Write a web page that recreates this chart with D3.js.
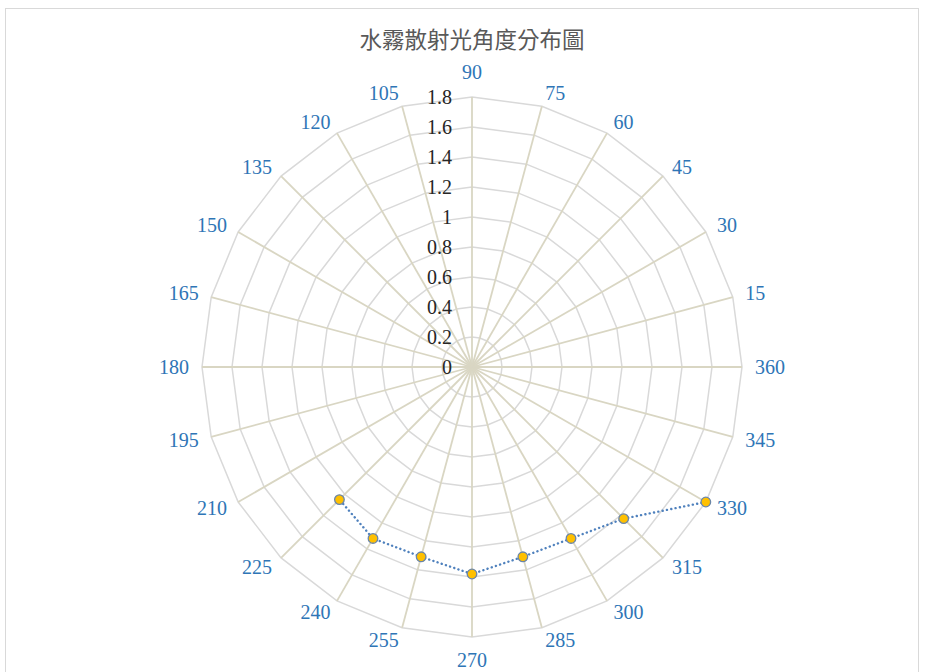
<!DOCTYPE html>
<html>
<head>
<meta charset="utf-8">
<script src="https://cdn.jsdelivr.net/npm/d3@7"></script>
<style>
  html, body { margin: 0; padding: 0; background: #fff; }
</style>
</head>
<body>
<div id="chart"></div>
<script>
// category labels, clockwise from the top (Excel radar order)
const categories = [90, 75, 60, 45, 30, 15, 360, 345, 330, 315, 300, 285,
                    270, 255, 240, 225, 210, 195, 180, 165, 150, 135, 120, 105];
// measured intensity per angle (blank = no reading)
const valuesByAngle = { 225: 1.25, 240: 1.32, 255: 1.31, 270: 1.38,
                        285: 1.31, 300: 1.32, 315: 1.43, 330: 1.8 };
const radialTicks = [0, 0.2, 0.4, 0.6, 0.8, 1, 1.2, 1.4, 1.6, 1.8];
const title = "水霧散射光角度分布圖";

const width = 925, height = 672;
const cx = 472, cy = 367;

const svg = d3.select("#chart").append("svg")
  .attr("width", width)
  .attr("height", height);

// chart frame
svg.append("rect")
  .attr("x", 5.5).attr("y", 8.5)
  .attr("width", 913).attr("height", 700)
  .attr("fill", "#fff")
  .attr("stroke", "#d9d9d9");

svg.append("text")
  .attr("x", cx).attr("y", 48)
  .attr("text-anchor", "middle")
  .attr("font-family", "'Noto Sans CJK TC', 'Noto Sans CJK SC', sans-serif")
  .attr("font-size", 22.5)
  .attr("fill", "#595959")
  .text(title);

const r = d3.scaleLinear().domain([0, 1.8]).range([0, 270]);
const angle = d3.scalePoint()
  .domain(categories)
  .range([0, 2 * Math.PI * (categories.length - 1) / categories.length]);

const g = svg.append("g").attr("transform", `translate(${cx},${cy})`);

// ring polygons
const ring = d3.lineRadial()
  .angle(d => angle(d))
  .curve(d3.curveLinearClosed);
g.selectAll(".ring")
  .data(radialTicks.filter(t => t > 0))
  .join("path")
  .attr("class", "ring")
  .attr("d", t => ring.radius(r(t))(categories))
  .attr("fill", "none")
  .attr("stroke", "#d9d9d9")
  .attr("stroke-width", 1.5);

// spokes
g.selectAll(".spoke")
  .data(categories)
  .join("line")
  .attr("class", "spoke")
  .attr("x1", 0).attr("y1", 0)
  .attr("x2", d => r(1.8) * Math.sin(angle(d)))
  .attr("y2", d => -r(1.8) * Math.cos(angle(d)))
  .attr("stroke", "#d9d6c3")
  .attr("stroke-width", 1.8);

// radial value labels
g.selectAll(".rtick")
  .data(radialTicks)
  .join("text")
  .attr("class", "rtick")
  .attr("x", -20)
  .attr("y", t => -r(t))
  .attr("dy", "0.33em")
  .attr("text-anchor", "end")
  .attr("font-family", "'Liberation Serif', serif")
  .attr("font-size", 20)
  .attr("fill", "#262626")
  .text(t => d3.format("~g")(t));

// category labels: anchored just outside the outer ring
const labelR = 283;
g.selectAll(".cat")
  .data(categories)
  .join("text")
  .attr("class", "cat")
  .each(function(d) {
    const a = angle(d), s = Math.sin(a), c = Math.cos(a);
    const el = d3.select(this);
    el.attr("x", labelR * s).attr("y", -labelR * c);
    if (Math.abs(s) < 1e-6) {
      el.attr("text-anchor", "middle").attr("dy", c > 0 ? -5 : 17);
    } else {
      el.attr("text-anchor", s > 0 ? "start" : "end").attr("dy", "0.33em");
    }
  })
  .attr("font-family", "'Liberation Serif', serif")
  .attr("font-size", 20)
  .attr("fill", "#2e75b6")
  .text(d => d);

// series
const series = categories.map(c => ({ cat: c, v: valuesByAngle[c] }));
const line = d3.lineRadial()
  .defined(d => d.v != null)
  .angle(d => angle(d.cat))
  .radius(d => r(d.v));
g.append("path")
  .attr("d", line(series))
  .attr("fill", "none")
  .attr("stroke", "#4f81bd")
  .attr("stroke-width", 2.4)
  .attr("stroke-linecap", "round")
  .attr("stroke-dasharray", "0.1 4.3");

g.selectAll(".pt")
  .data(series.filter(d => d.v != null))
  .join("circle")
  .attr("class", "pt")
  .attr("cx", d => r(d.v) * Math.sin(angle(d.cat)))
  .attr("cy", d => -r(d.v) * Math.cos(angle(d.cat)))
  .attr("r", 4.8)
  .attr("fill", "#ffc000")
  .attr("stroke", "#6b86a8")
  .attr("stroke-width", 1.3);
</script>
</body>
</html>
